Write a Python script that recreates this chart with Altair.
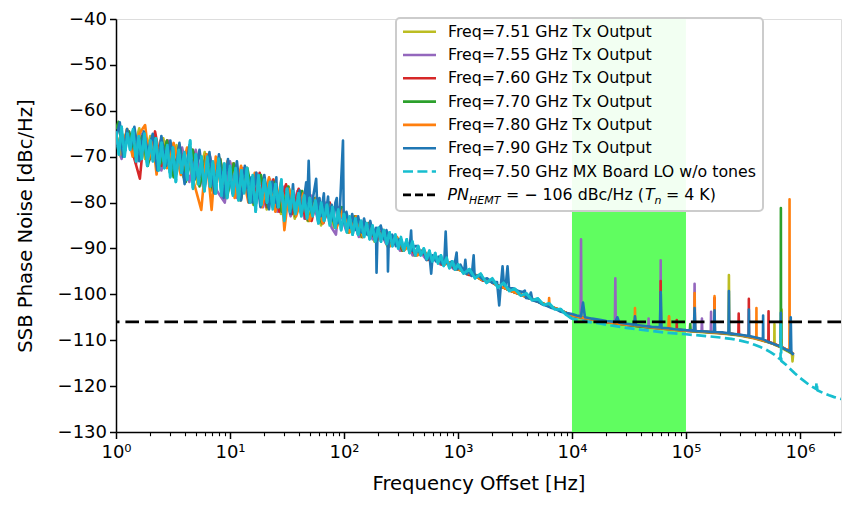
import altair as alt
import pandas as pd

# ---------------- data ----------------
SERIES_NAMES = [
    "Freq=7.51 GHz Tx Output",
    "Freq=7.55 GHz Tx Output",
    "Freq=7.60 GHz Tx Output",
    "Freq=7.70 GHz Tx Output",
    "Freq=7.80 GHz Tx Output",
    "Freq=7.90 GHz Tx Output",
    "Freq=7.50 GHz MX Board LO w/o tones",
]
SERIES_COLORS = ["#bcbd22", "#9467bd", "#d62728", "#2ca02c", "#ff7f0e", "#1f77b4", "#17becf"]

BAND_HZ = [1e4, 1e5]
PN_HEMT = -106

TX_751 = [(1.0,-65),(1.1,-70),(1.25,-64),(1.4,-69.5),(1.6,-63.8),(1.8,-70.5),(2.0,-65.5),(2.3,-72),(2.6,-66),(3.0,-73.5),(3.4,-67.5),(3.9,-74.5),(4.5,-68),(5.2,-76),(6.0,-69),(7.0,-77.5),(8.0,-70),(9.2,-78.5),(10.5,-71.5),(12,-79.5),(14,-72.5),(16,-80.5),(18.5,-74),(21,-81.5),(24,-75),(28,-82.5),(32,-76.5),(37,-83.5),(42,-77.5),(48,-84),(55,-79),(63,-85),(72,-80),(82,-85.5),(94,-81.5),(108,-86.5),(123,-83),(140,-87.5),(160,-84.5),(185,-88.5),(210,-86),(240,-89.5),(275,-87.5),(315,-90.5),(360,-89),(410,-91.5),(470,-90.5),(540,-92.5),(620,-91.8),(710,-93.5),(810,-93),(930,-94.5),(1050,-94.3),(1200,-95.7),(1400,-95.6),(1650,-97),(1900,-97),(2200,-98),(2600,-98.7),(3000,-99.3),(3500,-99.9),(4000,-100.6),(4700,-101.2),(5500,-101.9),(6500,-102.7),(7600,-103.3),(8800,-104),(1e4,-104.6),(1.3e4,-105.2),(1.7e4,-105.7),(2.2e4,-106.2),(3e4,-106.7),(4e4,-107),(5e4,-107.3),(6e4,-107.5),(6.9e4,-107.6),(7.1e4,-104.8),(7.3e4,-107.7),(1e5,-108),(1.5e5,-108.3),(2e5,-108.5),(2.36e5,-108.7),(2.38e5,-95.8),(2.4e5,-108.7),(3e5,-109),(4e5,-109.6),(5e5,-110.3),(5.95e5,-110.9),(5.97e5,-106.5),(5.99e5,-111),(6.88e5,-111.6),(6.9e5,-103.3),(6.92e5,-111.7),(7.8e5,-112.4),(8.5e5,-113),(8.6e5,-114.6),(8.7e5,-113.2)]

TX_755 = [(1.0,-66),(1.12,-70.5),(1.3,-64.5),(1.5,-71.5),(1.7,-65),(1.95,-71),(2.2,-66),(2.5,-73),(2.9,-66.5),(3.3,-74),(3.8,-68),(4.4,-75.5),(5.0,-68.5),(5.8,-76.5),(6.7,-70),(7.7,-77.5),(9.0,-80),(10,-71),(11.5,-79),(13,-72.5),(15,-80),(17,-73.5),(19.5,-81),(22.5,-75),(26,-82),(30,-76.5),(34,-83),(39,-77.5),(45,-83.5),(52,-78.5),(60,-84.5),(68,-80),(78,-85.5),(85,-87),(90,-81),(104,-86),(118,-83),(135,-87.5),(155,-84.5),(178,-88),(205,-86),(235,-89),(270,-87.5),(310,-90.5),(355,-89),(400,-91.5),(460,-90.5),(530,-92.5),(610,-91.7),(700,-93.5),(800,-93),(920,-94.5),(1050,-94.5),(1200,-95.6),(1400,-95.8),(1650,-97),(1900,-97.1),(2200,-98.1),(2600,-98.7),(3000,-99.4),(3500,-100),(4000,-100.6),(4700,-101.3),(5500,-102),(6500,-102.7),(7600,-103.3),(8800,-104),(1e4,-104.6),(1.15e4,-105),(1.19e4,-105.1),(1.2e4,-88),(1.21e4,-105.2),(1.6e4,-105.6),(2e4,-106),(2.38e4,-106.3),(2.4e4,-96.5),(2.42e4,-106.3),(3e4,-106.6),(4e4,-107),(4.68e4,-107.2),(4.7e4,-105.3),(4.72e4,-107.2),(5.98e4,-107.4),(6.0e4,-92.6),(6.02e4,-107.4),(8e4,-107.7),(1e5,-107.9),(1.18e5,-108),(1.19e5,-97.7),(1.2e5,-108),(1.37e5,-108.1),(1.38e5,-105.3),(1.39e5,-108.1),(1.65e5,-108.3),(1.66e5,-103.8),(1.67e5,-108.3),(2.2e5,-108.5),(3e5,-108.9),(4e5,-109.5),(5e5,-110.2),(6e5,-110.9),(7e5,-111.6),(8e5,-112.4),(8.7e5,-113)]

TX_760 = [(1.0,-65.5),(1.1,-69),(1.25,-64.5),(1.45,-70.5),(1.62,-74.8),(1.75,-66),(2.0,-70.5),(2.2,-64.5),(2.5,-72),(2.8,-66.5),(3.2,-73.5),(3.6,-67.5),(4.1,-75),(4.7,-68.5),(5.4,-76),(6.2,-69.5),(7.1,-77),(8.2,-70.5),(9.4,-78.5),(10.8,-71.5),(12.4,-79.5),(14,-72.5),(16,-80),(18.2,-73.5),(21,-81),(24,-75),(27,-82),(31,-76),(35,-82.5),(40,-77),(46,-83.5),(52,-84),(58,-79),(66,-84.5),(75,-80),(85,-85.5),(97,-81.5),(110,-86),(126,-83),(144,-87.5),(165,-84.5),(190,-88.5),(218,-86),(250,-89.5),(285,-87.5),(325,-90.5),(370,-89),(420,-91.5),(480,-90.5),(550,-92.5),(630,-91.8),(720,-93.5),(820,-93),(940,-94.5),(1070,-94.5),(1250,-95.8),(1450,-96),(1650,-97),(1900,-97.1),(2200,-98),(2600,-98.7),(3000,-99.4),(3500,-100),(4000,-100.6),(4700,-101.3),(5500,-102),(6500,-102.7),(7600,-103.3),(8800,-104),(1e4,-104.6),(1.4e4,-105.3),(2e4,-106),(3e4,-106.6),(4e4,-107),(5e4,-107.2),(5.98e4,-107.4),(6.0e4,-97.1),(6.02e4,-107.4),(8.28e4,-107.7),(8.3e4,-105.6),(8.32e4,-107.7),(1e5,-107.9),(1.4e5,-108.1),(1.77e5,-108.3),(1.78e5,-100.8),(1.79e5,-108.3),(2.3e5,-108.5),(2.88e5,-108.8),(2.9e5,-104.2),(2.92e5,-108.8),(3.55e5,-109.2),(3.56e5,-101),(3.57e5,-109.2),(4.4e5,-109.7),(5.28e5,-110.3),(5.3e5,-103.7),(5.32e5,-110.3),(6.2e5,-111),(7.2e5,-111.7),(8.2e5,-112.5),(8.8e5,-113.1)]

TX_770 = [(1.0,-64),(1.05,-62.4),(1.15,-69),(1.3,-64.5),(1.5,-70),(1.7,-65.5),(1.9,-72),(2.15,-66),(2.45,-71.5),(2.8,-66.5),(3.2,-74.5),(3.6,-67.5),(4.1,-75.5),(4.7,-68.5),(5.4,-76.5),(6.2,-69.5),(7.1,-77.5),(8.2,-70.5),(9.4,-79),(10.8,-71.5),(12.4,-79.5),(14.2,-72.5),(16.3,-80.5),(18.7,-74),(21.5,-81),(24.7,-75.5),(28.4,-82),(32.6,-76.5),(37.5,-83),(43,-77.5),(49,-84),(56,-79),(64,-84.5),(73,-80),(84,-85.5),(96,-81),(110,-86.5),(126,-83),(145,-87.5),(166,-84.5),(190,-88.5),(220,-86),(250,-89.5),(290,-87.5),(330,-90.5),(380,-89),(430,-91.5),(500,-90.5),(570,-92.5),(650,-92),(750,-93.5),(860,-93),(980,-94.5),(1150,-95.2),(1350,-95.6),(1600,-96.8),(1900,-97),(2200,-98),(2600,-98.7),(3000,-99.4),(3500,-100),(4000,-100.6),(4700,-101.3),(5500,-102),(6500,-102.7),(7600,-103.3),(8800,-104),(1e4,-104.6),(1.4e4,-105.3),(2e4,-106),(3e4,-106.6),(4e4,-107),(5e4,-107.2),(7e4,-107.6),(1e5,-107.9),(1.08e5,-107.9),(1.09e5,-106.5),(1.1e5,-108),(1.5e5,-108.2),(2e5,-108.4),(3e5,-108.9),(4e5,-109.5),(5e5,-110.2),(6e5,-110.9),(6.78e5,-111.5),(6.8e5,-81.2),(6.82e5,-111.5),(7.6e5,-112.1),(8.7e5,-113)]

TX_780 = [(1.0,-65),(1.12,-69.5),(1.25,-64),(1.4,-70),(1.6,-65),(1.8,-63.1),(1.95,-70.5),(2.1,-66),(2.27,-73.9),(2.45,-66.5),(2.8,-72.5),(3.2,-67),(3.7,-74),(4.2,-68),(4.8,-75.5),(5.6,-81.6),(6.2,-69.5),(6.9,-81.6),(7.5,-70),(8.5,-78),(9.5,-71),(11,-79),(12.5,-72),(14.5,-80),(16.5,-73.5),(19,-81),(22,-74.5),(25,-82),(28,-75.5),(30,-86),(33,-77),(38,-83),(44,-78),(50,-84),(57,-79),(65,-84.5),(75,-80.5),(86,-85.5),(98,-81.5),(112,-86.5),(128,-83),(147,-87.5),(168,-84.5),(193,-88.5),(222,-86),(255,-89.5),(292,-87.5),(335,-90.5),(385,-89),(440,-91.5),(505,-90.5),(580,-92.5),(665,-92),(760,-93.5),(870,-93),(990,-94.5),(1150,-95.2),(1350,-95.6),(1600,-96.8),(1900,-97),(2200,-98),(2600,-98.7),(3000,-99.4),(3500,-100),(4000,-100.6),(4700,-101.3),(5500,-102),(6250,-102.4),(6300,-100.8),(6350,-102.5),(7600,-103.3),(8800,-104),(1e4,-104.6),(1.4e4,-105.3),(2e4,-106),(3e4,-106.6),(3.55e4,-106.7),(3.57e4,-103),(3.59e4,-106.7),(5e4,-107.2),(7.08e4,-107.6),(7.1e4,-104.8),(7.12e4,-107.6),(1e5,-107.9),(1.18e5,-108),(1.19e5,-99.7),(1.2e5,-108),(1.77e5,-108.3),(1.78e5,-100.4),(1.79e5,-108.3),(2.5e5,-108.6),(3.3e5,-109.1),(4.14e5,-109.6),(4.15e5,-103),(4.16e5,-109.6),(5e5,-110.2),(6e5,-110.9),(7e5,-111.6),(8.08e5,-112.3),(8.1e5,-79.3),(8.12e5,-112.3),(8.8e5,-113)]

TX_790 = [(1.0,-66),(1.08,-62.5),(1.15,-70),(1.25,-64),(1.35,-68),(1.45,-63.5),(1.6,-71),(1.75,-64.5),(1.9,-69),(2.1,-65),(2.3,-73),(2.5,-65.5),(2.75,-72),(3.0,-66.5),(3.3,-74),(3.6,-67),(4.0,-76),(4.4,-67.5),(4.9,-75),(5.4,-68.5),(6.0,-77),(6.6,-69),(7.3,-78),(8.0,-69.5),(8.8,-79),(9.6,-70.5),(10.5,-78),(11.5,-71),(12.5,-79.5),(13.5,-72),(14.7,-80),(15.2,-76),(15.4,-74.5),(15.7,-80),(17,-73.5),(18.5,-81),(20,-74),(22,-81.5),(23.5,-75.5),(25,-80),(25.5,-74.5),(26,-81),(28,-76.5),(30,-82),(32,-77),(34,-82.5),(35.7,-76),(37,-82),(39,-80),(40.8,-77.3),(42,-82.5),(44,-80.5),(46.6,-75.6),(47.5,-81),(49,-70.9),(50.5,-81.5),(53,-79.5),(57,-74.8),(58.5,-82),(61,-79),(62.5,-83),(66.6,-78),(68,-83.5),(70.5,-81),(72.5,-78.7),(74,-83.5),(78,-80.5),(81,-84),(84,-80),(86.5,-79),(88,-84.5),(92,-81.5),(98,-66.5),(99.5,-84.5),(105,-82),(112,-85.5),(118,-82.5),(125,-86),(133,-83),(142,-86.5),(150,-83.5),(160,-87),(170,-84),(180,-87),(191,-85.5),(193,-95.3),(197,-86.5),(210,-85),(225,-88),(236,-86),(241,-87.6),(243,-95),(247,-88),(265,-87),(285,-89.5),(305,-88),(330,-90),(355,-88.5),(375,-90.5),(388,-86.1),(395,-90.5),(420,-89.5),(444,-89.5),(470,-91.5),(500,-90.5),(530,-92.5),(560,-91),(582,-95.5),(600,-91.5),(640,-92.8),(680,-91.8),(720,-93.3),(760,-92.3),(780,-86.3),(800,-93),(840,-93.8),(880,-92.8),(920,-94.3),(973,-90.9),(990,-94.5),(1050,-93.5),(1130,-95.2),(1160,-92.5),(1190,-95.5),(1250,-95),(1320,-96),(1372,-91.5),(1400,-96.2),(1500,-95.8),(1650,-96.8),(1800,-96.5),(2000,-97.5),(2200,-97.3),(2300,-102.4),(2380,-97.8),(2460,-93.9),(2530,-98),(2620,-98.2),(2720,-93.9),(2800,-98.4),(3100,-98.8),(3400,-99.3),(3700,-99.5),(3860,-99.2),(3950,-100.8),(4200,-100.9),(4360,-99.6),(4500,-101.3),(5000,-101.6),(5500,-102.2),(6000,-102.5),(6500,-102.9),(7200,-103.2),(8000,-103.8),(9000,-104.1),(1e4,-104.3),(1.1e4,-104.6),(1.2e4,-104.8),(1.25e4,-101.8),(1.3e4,-105),(1.5e4,-105.3),(1.8e4,-105.6),(2e4,-105.8),(2.4e4,-106),(2.5e4,-105),(2.6e4,-106.2),(3e4,-106.4),(3.5e4,-106.6),(3.57e4,-104.8),(3.65e4,-106.7),(4e4,-106.8),(5e4,-107.1),(5.9e4,-107.2),(6.0e4,-99.5),(6.1e4,-107.3),(7e4,-107.4),(8e4,-107.6),(1e5,-107.8),(1.17e5,-107.9),(1.19e5,-103),(1.21e5,-108),(1.5e5,-108.1),(1.76e5,-108.2),(1.78e5,-103.5),(1.8e5,-108.2),(2.1e5,-108.3),(2.36e5,-108.5),(2.38e5,-99.3),(2.4e5,-108.5),(3e5,-108.8),(3.54e5,-109.1),(3.56e5,-103.3),(3.58e5,-109.1),(4.1e5,-109.4),(4.73e5,-109.8),(4.75e5,-104.6),(4.77e5,-109.8),(5.3e5,-110.4),(6e5,-110.9),(6.78e5,-111.4),(6.8e5,-104),(6.82e5,-111.5),(7.5e5,-112),(8.2e5,-112.4),(8.3e5,-105),(8.4e5,-112.6),(8.8e5,-113.2)]

LO_750 = [(1.00,-64.5),(1.06,-69.5),(1.12,-63.5),(1.19,-70),(1.26,-65),(1.33,-68.5),(1.41,-64),(1.50,-71),(1.58,-65.5),(1.68,-70.5),(1.78,-65),(1.88,-72),(2.00,-66.5),(2.11,-71),(2.24,-66),(2.37,-73),(2.51,-67),(2.66,-72.5),(2.82,-67.5),(2.99,-74.5),(3.16,-68),(3.35,-75.5),(3.55,-68.5),(3.76,-73.5),(3.98,-69),(4.22,-75),(4.47,-66.5),(4.73,-77),(5.01,-69.5),(5.31,-76),(5.62,-70),(5.96,-77.5),(6.31,-70),(6.68,-76.5),(7.08,-71),(7.50,-78),(7.94,-70.5),(8.41,-78.5),(8.91,-71.5),(9.44,-79),
          (10.0,-72),(10.6,-78.5),(11.2,-72.5),(11.9,-79.5),(12.6,-73),(13.3,-78),(14.1,-72.5),(15.0,-80),(15.8,-74),(16.8,-82),(17.8,-74),(18.8,-80.5),(20.0,-75),(21.1,-80),(22.4,-75.5),(23.7,-81.5),(25.1,-76),(26.6,-81),(28.2,-75),(29.9,-84),(31.6,-77),(33.5,-82),(35.5,-77.5),(37.6,-82.5),(39.8,-78),(42.2,-83),(44.7,-78.5),(47.3,-83.5),(50.1,-79),(53.1,-83),(56.2,-79.5),(59.6,-84.5),(63.1,-80),(66.8,-84),(70.8,-80.5),(75.0,-85),(79.4,-81),(84.1,-85.5),(89.1,-81.5),(94.4,-86),
          (100,-82.5),(106,-86.5),(112,-83),(119,-87),(126,-83.5),(133,-87),(141,-84),(150,-87.5),(158,-84.5),(168,-88),(178,-85),(188,-88.5),(200,-85.5),(211,-88.5),(224,-86),(237,-89),(251,-86.5),(266,-89.5),(282,-87),(299,-90),(316,-87.5),(335,-90.5),(355,-88),(376,-91),(398,-88.5),(422,-91.5),(447,-89.5),(473,-91.5),(501,-90),(531,-92.3),(562,-90.5),(596,-92.8),(631,-91),(668,-93.3),(708,-91.5),(750,-93.8),(794,-92),(841,-94.3),(891,-92.8),(944,-94.6),
          (1000,-93.5),(1120,-95.5),(1260,-94.5),(1410,-96.5),(1580,-95.5),(1780,-97.5),(2000,-96.5),(2240,-98.5),(2510,-97.5),(2820,-99.3),(3160,-98.8),(3550,-100.3),(3980,-99.8),(4470,-101.3),(5010,-100.9),(5620,-102.3),(6310,-102),(7080,-103.3),(7940,-103.2),(8910,-104.5),
          (1e4,-105.3),(1.3e4,-105.9),(1.7e4,-106.3),(2.2e4,-106.8),(3e4,-107.3),(4e4,-107.7),(5e4,-108.0),(7e4,-108.4),(1e5,-108.7),(1.5e5,-109.1),(2e5,-109.4),(2.5e5,-109.7),(3e5,-110.1),(3.5e5,-110.5),(4e5,-111.0),(4.5e5,-111.5),(5e5,-112.0),(5.5e5,-112.6),(6e5,-113.2),(6.5e5,-113.9),(6.75e5,-114.2),(6.8e5,-106.5),(6.85e5,-114.5),(7.5e5,-115.3),(8e5,-116.0),(9e5,-117.2),(1e6,-118.2),(1.2e6,-119.7),(1.38e6,-120.6),(1.4e6,-119.2),(1.42e6,-120.9),(1.6e6,-121.5),(1.8e6,-122.0),(2.0e6,-122.4),(2.3e6,-122.8),(2.65e6,-123.1)]

SERIES_DATA = [TX_751, TX_755, TX_760, TX_770, TX_780, TX_790, LO_750]

X_MAX = 2.29e6
X_TICKS = [m * 10 ** e for e in range(7) for m in range(1, 10) if m * 10 ** e < X_MAX]
Y_TICKS = list(range(-130, -39, 10))

# ---------------- chart ----------------
W, H = 725, 413
FONT = "DejaVu Sans"
MAJOR = ("datum.value == 1 || datum.value == 10 || datum.value == 100 || datum.value == 1000 || "
         "datum.value == 10000 || datum.value == 100000 || datum.value == 1000000")
SUP = ("datum.value == 1 ? '10\u2070' : datum.value == 10 ? '10\u00b9' : datum.value == 100 ? '10\u00b2' : "
       "datum.value == 1000 ? '10\u00b3' : datum.value == 10000 ? '10\u2074' : datum.value == 100000 ? '10\u2075' : "
       "datum.value == 1000000 ? '10\u2076' : ''")

xscale = alt.Scale(type="log", domain=[1, X_MAX], nice=False)
yscale = alt.Scale(domain=[-130, -40], nice=False, zero=False)

xaxis = alt.Axis(values=X_TICKS, labelExpr=SUP, grid=False,
                 tickSize={"condition": {"test": MAJOR, "value": 6.5}, "value": 3.7},
                 tickWidth={"condition": {"test": MAJOR, "value": 1.5}, "value": 1.1},
                 tickColor="black", domainColor="black", domainWidth=1.5,
                 labelFont=FONT, labelFontSize=18, labelColor="black", labelPadding=5,
                 labelOverlap=False, labelFlush=False,
                 title="Frequency Offset [Hz]", titleFont=FONT, titleFontSize=19.6,
                 titleFontWeight="normal", titleColor="black", titlePadding=13)
yaxis = alt.Axis(values=Y_TICKS, format="d", grid=False, tickSize=6.5, tickWidth=1.5,
                 tickColor="black", domainColor="black", domainWidth=1.5,
                 labelFont=FONT, labelFontSize=18, labelColor="black", labelPadding=3,
                 title="SSB Phase Noise [dBc/Hz]", titleFont=FONT, titleFontSize=19.6,
                 titleFontWeight="normal", titleColor="black", titlePadding=22)


def X(field):
    return alt.X(field, type="quantitative", scale=xscale, axis=xaxis)


def Y(field):
    return alt.Y(field, type="quantitative", scale=yscale, axis=yaxis)


layers = []
band_df = pd.DataFrame({"f0": [BAND_HZ[0]], "f1": [BAND_HZ[1]]})
layers.append(alt.Chart(band_df).mark_rect(color="#60fd60", opacity=1).encode(x=X("f0"), x2="f1"))

for name, color, pts in zip(SERIES_NAMES, SERIES_COLORS, SERIES_DATA):
    df = pd.DataFrame(pts, columns=["f", "pn"])
    if "LO" in name:
        base = alt.Chart(df)
        # dashed trace; in the dense low-offset region the dashes merge into a solid band
        layers.append(base.mark_line(color=color, strokeWidth=2.7, strokeJoin="round", clip=True,
                                     strokeDash=[10, 4.4]).encode(x=X("f"), y=Y("pn")))
        layers.append(base.transform_filter("datum.f <= 10000")
                      .mark_line(color=color, strokeWidth=2.7, strokeJoin="round", clip=True)
                      .encode(x=X("f"), y=Y("pn")))
    else:
        layers.append(alt.Chart(df).mark_line(color=color, strokeWidth=2.6, strokeJoin="round", clip=True)
                      .encode(x=X("f"), y=Y("pn")))

rule_df = pd.DataFrame({"pn": [PN_HEMT]})
layers.append(alt.Chart(rule_df).mark_rule(color="black", strokeWidth=2.8, strokeDash=[13.6, 5.9])
              .encode(y=Y("pn")))

# ---------------- legend (manual, to allow the math-like label) ----------------
ROW0, DY = 12.7, 23.3
leg_df = pd.DataFrame({"label": SERIES_NAMES, "col": SERIES_COLORS, "i": list(range(len(SERIES_NAMES)))})
box = alt.Chart(pd.DataFrame({"a": [0]})).mark_rect(
    fill="white", fillOpacity=0.92, stroke="#cccccc", strokeWidth=2, cornerRadius=4
).encode(x=alt.value(280), x2=alt.value(647), y=alt.value(-1), y2=alt.value(192))
layers.append(box)

leg_base = alt.Chart(leg_df).transform_calculate(ly=f"{ROW0} + {DY} * datum.i")
layers.append(leg_base.transform_filter("datum.i < 6").mark_rule(strokeWidth=2.6).encode(
    x=alt.value(287), x2=alt.value(320), y=alt.Y("ly:Q", scale=None),
    color=alt.Color("col:N", scale=None)))
layers.append(leg_base.transform_filter("datum.i == 6").mark_rule(strokeWidth=2.6, strokeDash=[10, 4.4]).encode(
    x=alt.value(287), x2=alt.value(320), y=alt.Y("ly:Q", scale=None),
    color=alt.Color("col:N", scale=None)))
layers.append(leg_base.mark_text(align="left", baseline="middle", font=FONT, fontSize=15.8, color="black").encode(
    x=alt.value(332), y=alt.Y("ly:Q", scale=None), text="label:N"))

row7 = ROW0 + 7 * DY
one = pd.DataFrame({"a": [0]})
layers.append(alt.Chart(one).mark_rule(color="black", strokeWidth=2.8, strokeDash=[8, 4]).encode(
    x=alt.value(287), x2=alt.value(320), y=alt.value(row7)))
pieces = [
    ("PN", 331.5, 15.8, "italic", 0),
    ("HEMT", 353, 11, "italic", 3.5),
    ("= \u2212 106 dBc/Hz (", 390, 15.8, "normal", 0),
    ("T", 529, 15.8, "italic", 0),
    ("n", 538.5, 11, "italic", 3.5),
    ("= 4 K)", 550, 15.8, "normal", 0),
]
for txt, px, fs, style, drop in pieces:
    layers.append(alt.Chart(one).mark_text(align="left", baseline="alphabetic", font=FONT, fontSize=fs,
                                           fontStyle=style, color="black", text=txt)
                  .encode(x=alt.value(px), y=alt.value(row7 + 5.6 + drop)))

chart = alt.layer(*layers).properties(
    width=W, height=H,
    padding={"left": 108, "top": 11, "right": 1, "bottom": 62},
    autosize=alt.AutoSizeParams(type="none"),
).configure_view(stroke="black", strokeWidth=1.5).configure(font=FONT)

chart.save("out.html", embed_options={"renderer": "svg", "actions": False})
